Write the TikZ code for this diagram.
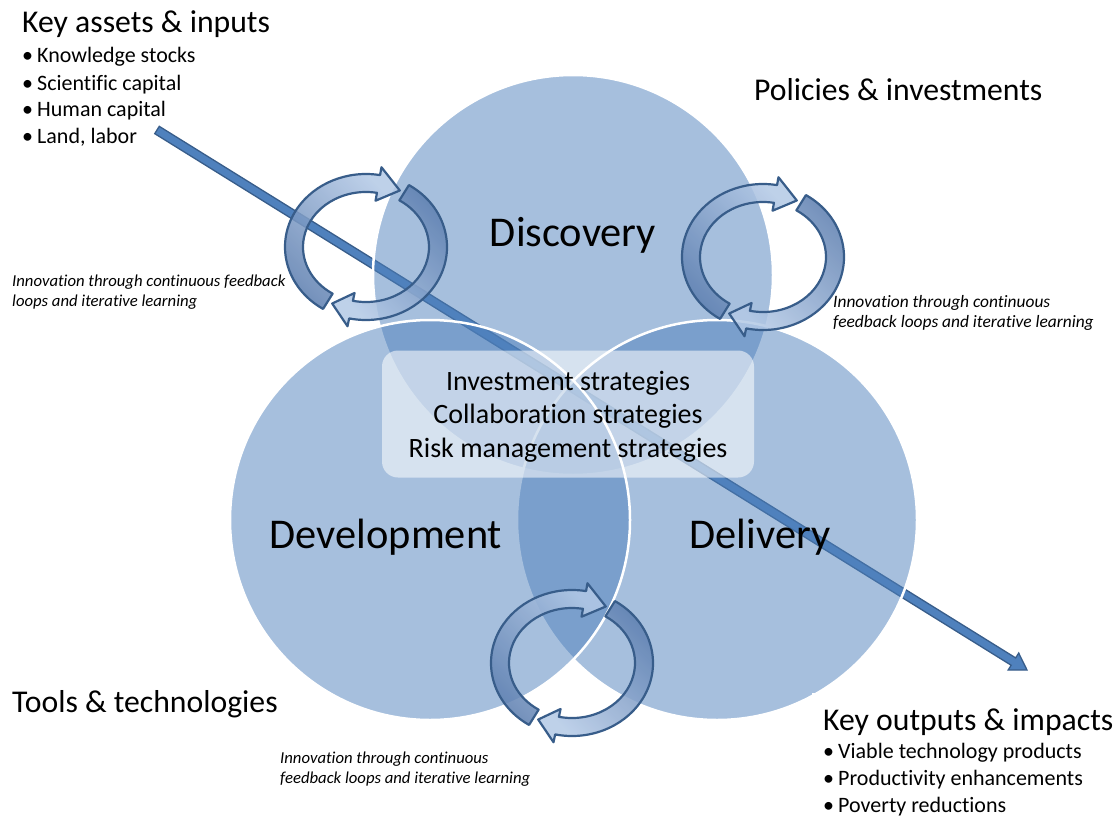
\documentclass[tikz,border=0pt]{standalone}
\usepackage{fontspec}
\setmainfont{Carlito}[Ligatures=NoCommon]
\usetikzlibrary{calc}
\definecolor{venn}{HTML}{4F81BD}
\definecolor{loopline}{HTML}{385D8A}
\definecolor{loopdark}{HTML}{5A7CAE}
\definecolor{looplight}{HTML}{B3C9E6}
\tikzset{
  hdr/.style={font=\fontsize{31.7}{37}\selectfont, inner sep=0pt, anchor=base west},
  bul/.style={font=\fontsize{22}{26}\selectfont, inner sep=0pt, anchor=base west},
  big/.style={font=\fontsize{42.4}{50}\selectfont, inner sep=0pt, anchor=base},
  mid/.style={font=\fontsize{28}{34}\selectfont, inner sep=0pt, anchor=base},
  note/.style={font=\itshape\fontsize{16.7}{20}\selectfont, inner sep=0pt, anchor=base west},
  noteR/.style={font=\itshape\fontsize{17.4}{20}\selectfont, inner sep=0pt, anchor=base west},
  vennc/.style={fill=venn, fill opacity=0.5, draw=white, draw opacity=1, line width=2.5pt},
  loopband/.style={draw=loopline, line width=2.2pt, fill opacity=0.85, line join=round},
  headA/.style={top color=looplight, bottom color=loopdark, shading angle=-45},
  headB/.style={top color=loopdark, bottom color=looplight, shading angle=-45},
}
% #1 centre, #2 tail angle, #3 head base angle, #4 tip angle, #5 shading style
\newcommand\cycarrow[5]{%
  \shadedraw[loopband,#5]
    ($(#1)+(#2:81 and 73)$) arc[start angle=#2, end angle=#3, x radius=81, y radius=73]
    -- ($(#1)+(#3:89 and 81)$) -- ($(#1)+(#4:72 and 64)$) -- ($(#1)+(#3:55 and 47)$)
    -- ($(#1)+(#3:63 and 55)$) arc[start angle=#3, end angle=#2, x radius=63, y radius=55]
    -- cycle;}
\begin{document}
\begin{tikzpicture}[x=1pt, y=-1pt]
\useasboundingbox (0,0) rectangle (1118,816);
\fill[white] (0,0) rectangle (1118,816);

% big diagonal arrow
\coordinate (aS) at (157,130);
\coordinate (aE) at (1027,670);
\coordinate (aH) at ($(aE)!16pt!(aS)$);
\filldraw[fill=venn, draw=loopline, line width=1.3pt, line join=miter]
  ($(aS)!4.3pt!90:(aE)$) -- ($(aH)!4.3pt!90:(aE)$) -- ($(aH)!10pt!90:(aE)$) -- (aE)
  -- ($(aH)!10pt!-90:(aE)$) -- ($(aH)!4.3pt!-90:(aE)$) -- ($(aS)!4.3pt!-90:(aE)$) -- cycle;

% Venn circles
\coordinate (cDisc) at (573,275);
\coordinate (cDel) at (717,520);
\coordinate (cDev) at (430,520);
\path[vennc] (cDisc) circle[radius=200];
\path[vennc] (cDel) circle[radius=200];
\path[vennc] (cDev) circle[radius=200];

% white patch of the output text box
\fill[white] (812,693) rectangle (1118,816);

% centre box
\node[fill=white, fill opacity=0.55, rounded corners=16pt, minimum width=372pt, minimum height=127pt, inner sep=0pt] (box) at (568,414) {};
\node[mid] (s1) at (568,390) {Investment strategies};
\node[mid] (s2) at (568,423.5) {Collaboration strategies};
\node[mid] (s3) at (568,457) {Risk management strategies};

% feedback loops
\coordinate (L1) at (366,247);
\coordinate (L2) at (763,257);
\coordinate (L3) at (572,663);
\foreach \c in {L1,L2,L3}{
  \cycarrow{\c}{122}{280}{298}{headA}
  \cycarrow{\c}{302}{462}{478}{headB}
}

% circle labels
\node[big] (disc) at (573,246) {Discovery};
\node[big] (dev) at (386,548) {Development};
\node[big] (del) at (760,548) {Delivery};

% corner texts
\node[hdr] (ka) at (22,33) {Key assets \& inputs};
\node[bul] (ka1) at (22,63) {\makebox[15pt][l]{•}Knowledge stocks};
\node[bul] (ka2) at (22,90) {\makebox[15pt][l]{•}Scientific capital};
\node[bul] (ka3) at (22,116.5) {\makebox[15pt][l]{•}Human capital};
\node[bul] (ka4) at (22,143) {\makebox[15pt][l]{•}Land, labor};

\node[hdr] (pol) at (754,100) {Policies \& investments};
\node[hdr] (tools) at (12,712) {Tools \& technologies};

\node[hdr] (ko) at (823,730) {Key outputs \& impacts};
\node[bul] (ko1) at (823,758) {\makebox[15pt][l]{•}Viable technology products};
\node[bul] (ko2) at (823,785) {\makebox[15pt][l]{•}Productivity enhancements};
\node[bul] (ko3) at (823,812) {\makebox[15pt][l]{•}Poverty reductions};

% notes
\node[note] (n1a) at (12,286) {Innovation through continuous feedback};
\node[note] (n1b) at (12,306) {loops and iterative learning};
\node[noteR] (n2a) at (833,307) {Innovation through continuous};
\node[noteR] (n2b) at (833,327) {feedback loops and iterative learning};
\node[note] (n3a) at (280,763) {Innovation through continuous};
\node[note] (n3b) at (280,783) {feedback loops and iterative learning};
\end{tikzpicture}
\end{document}
